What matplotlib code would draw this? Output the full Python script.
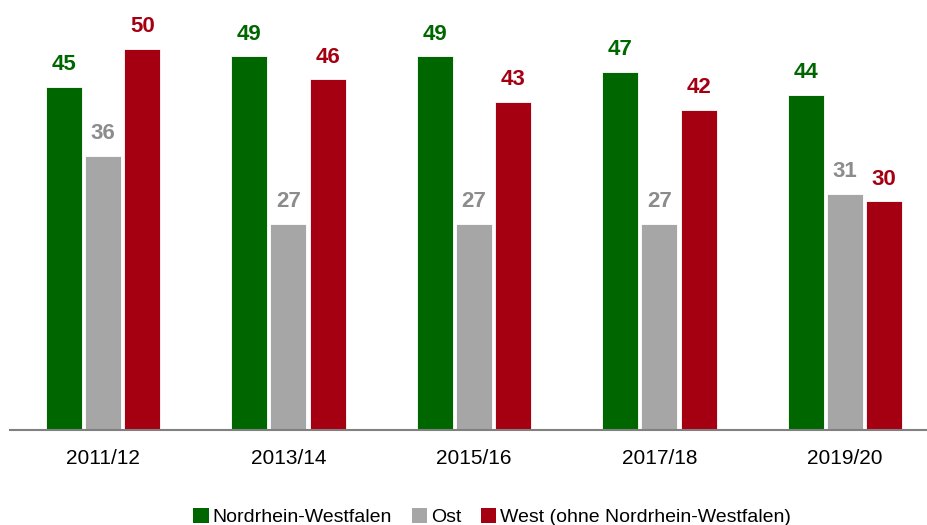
import numpy as np
import matplotlib
matplotlib.use("Agg")
import matplotlib.pyplot as plt
from matplotlib.patches import Patch

plt.rcParams["font.family"] = ["Liberation Sans Narrow", "Liberation Sans", "DejaVu Sans"]

years = ["2011/12", "2013/14", "2015/16", "2017/18", "2019/20"]
series_names = ["Nordrhein-Westfalen", "Ost", "West (ohne Nordrhein-Westfalen)"]
nrw = [45, 49, 49, 47, 44]
ost = [36, 27, 27, 27, 31]
west = [50, 46, 43, 42, 30]

bar_colors = ["#006600", "#a6a6a6", "#a50012"]
label_colors = ["#006600", "#8c8c8c", "#a50012"]

fig = plt.figure(figsize=(9.27, 5.25), dpi=100)
ax = fig.add_axes([10 / 927, 95 / 525, 917 / 927, 430 / 525])

x = np.arange(len(years))
width = 0.194
step = 0.212
for i, (vals, bc, lc) in enumerate(zip([nrw, ost, west], bar_colors, label_colors)):
    pos = x + (i - 1) * step
    ax.bar(pos, vals, width, color=bc, edgecolor="white", linewidth=0.6)
    for px, v in zip(pos, vals):
        ax.text(px, v + 2.2, str(v), ha="center", va="baseline", fontsize=16,
                fontweight="bold", color=lc)

ax.set_xlim(-0.501, 4.443)
ax.set_ylim(0, 56.4)
ax.set_xticks(x)
ax.set_xticklabels(years, fontsize=15)
ax.tick_params(axis="x", length=0, pad=14)
ax.set_yticks([])
for s in ["top", "right", "left"]:
    ax.spines[s].set_visible(False)
ax.spines["bottom"].set_color("#808080")
ax.spines["bottom"].set_linewidth(1.5)

handles = [Patch(facecolor=c, edgecolor="none") for c in bar_colors]
fig.legend(handles, series_names, loc="lower center", bbox_to_anchor=(0.531, -0.035),
           ncol=3, frameon=False, fontsize=14, handlelength=0.8, handleheight=0.8,
           handletextpad=0.2, columnspacing=1.0)

fig.savefig("out.png", dpi=100)
